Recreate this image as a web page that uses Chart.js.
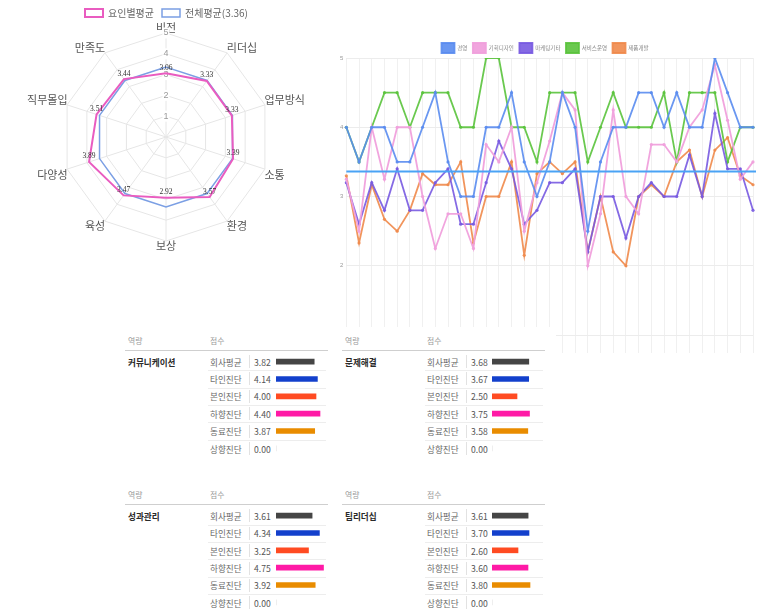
<!DOCTYPE html>
<html><head><meta charset="utf-8">
<script src="https://cdn.jsdelivr.net/npm/chart.js@4.4.1/dist/chart.umd.min.js"></script>
<style>
html,body{margin:0;padding:0;background:#fff;width:767px;height:610px;overflow:hidden;font-family:"Noto Sans CJK KR","Noto Sans",sans-serif;}
canvas{position:absolute;display:block;}
#tblBg{position:absolute;left:100px;top:327px;width:456px;height:283px;background:#fff;}
.tx{position:absolute;white-space:nowrap;height:14px;line-height:14px;font-size:8.6px;}
.ln{position:absolute;height:1px;}
.vs{position:absolute;width:1px;background:#e2e2e2;}
</style>
</head><body>
<canvas id="radar" width="333" height="252" style="left:0;top:0"></canvas>
<canvas id="line" width="437" height="330" style="left:330px;top:30px"></canvas>
<div id="tblBg"></div>
<script>
// ---------- data ----------
const radarLabels = ['비전','리더십','업무방식','소통','환경','보상','육성','다양성','직무몰입','만족도'];
const factorScores = [3.06,3.33,3.33,3.39,3.57,2.92,3.47,3.89,3.51,3.44];
const overallScores = [3.36,3.36,3.36,3.36,3.36,3.36,3.36,3.36,3.36,3.36];
const radarSeriesNames = ['요인별평균','전체평균(3.36)'];

const xLabels = ['1','2','3','4','5','6','7','8','9','10','11','12','13','14','15','16','17','18','19','20','21','22','23','24','25','26','27','28','29','30','31','32','33'];
const seriesNames = ['경영','기획디자인','마케팅기타','서비스운영','제품개발'];
const mgmt    = [4,3.5,4,4,3.5,3.5,4,4.5,3.5,3,3,4,4,4.5,3.5,3,3.5,4.5,4,2.5,3.5,4,4,4.5,4.5,4,4.5,4,4,5,4.5,4,4];
const design  = [3.25,2.5,4,3.25,4,4,3.0,2.25,2.75,2.75,2.25,3.75,3.5,4,2.5,3.2,3.8,4.5,4.25,2.0,2.75,4.25,3.0,2.75,3.75,3.75,3.5,4.0,4.25,4.9,4.1,3.25,3.5];
const marketing = [3.2,2.6,3.2,2.8,3.4,2.8,2.8,3.2,3.4,2.6,2.6,3.2,3.8,3.4,2.6,2.8,3.2,3.2,3.4,2.2,3.0,3.0,2.4,3.0,3.2,3.0,3.0,3.6,3.0,4.2,3.4,3.4,2.8];
const service = [4,3.5,4,4.5,4.5,4,4.5,4.5,4.5,4,4,5,5,4,4,3.5,4.5,4.5,4.5,3.5,4,4.5,4,4,4,4.5,3.5,4.5,4.5,4.5,3.5,4,4];
const product = [3.3,2.33,3.17,2.67,2.5,2.8,3.33,3.17,3.17,3.5,2.33,3.0,3.0,3.5,2.15,3.33,3.5,3.33,3.5,2.2,3.0,2.2,2.0,3.0,3.17,3.0,3.5,3.67,3.0,3.67,3.85,3.3,3.17];
const overallAvg = 3.36;
const yTicks = [1,2,3,4,5];

const headerLabels = ['역량','점수'];
const competencyNames = ['커뮤니케이션','문제해결','성과관리','팀리더십'];
const rowLabels = ['회사평균','타인진단','본인진단','하향진단','동료진단','상향진단'];
const commScores = [3.82,4.14,4.00,4.40,3.87,0.00];
const probScores = [3.68,3.67,2.50,3.75,3.58,0.00];
const perfScores = [3.61,4.34,3.25,4.75,3.92,0.00];
const leadScores = [3.61,3.70,2.60,3.60,3.80,0.00];

// ---------- styles ----------
const KR = "'Noto Sans CJK KR','Noto Sans',sans-serif";
const lineColors = ['rgba(90,140,240,0.9)','rgba(240,160,220,0.95)','rgba(120,90,225,0.9)','rgba(90,195,60,0.9)','rgba(240,138,75,0.9)'];
const rowColors = ['#454545','#1340cc','#ff4b22','#ff1aa6','#e98c00','#cccccc'];

function legendShrink(px){
  return {id:'legendShrink', afterInit(chart){
    const lg = chart.legend; if(!lg) return;
    const f = lg.fit.bind(lg);
    lg.fit = function(){ f(); this.height = Math.max(0, this.height - px); };
  }};
}

// ---------- radar ----------
const radarLabelPlugin = {
  id:'radarValueLabels',
  afterDatasetsDraw(chart){
    const meta = chart.getDatasetMeta(0);
    const ctx = chart.ctx;
    ctx.save();
    ctx.font = '7.5px "Liberation Serif","DejaVu Serif",serif';
    ctx.fillStyle = '#333';
    ctx.textAlign = 'center'; ctx.textBaseline = 'middle';
    meta.data.forEach((pt,i)=>{ ctx.fillText(factorScores[i].toFixed(2), pt.x, pt.y-5.5); });
    ctx.restore();
  }
};
new Chart(document.getElementById('radar'), {
  type:'radar',
  data:{labels:radarLabels, datasets:[
    {label:radarSeriesNames[0], data:factorScores, borderColor:'#e95cc0', backgroundColor:'rgba(255,255,255,0)', borderWidth:2, pointRadius:0, fill:false},
    {label:radarSeriesNames[1], data:overallScores, borderColor:'#7b9fe4', backgroundColor:'rgba(255,255,255,0)', borderWidth:1.5, pointRadius:0, fill:false}
  ]},
  options:{
    responsive:false, animation:false,
    layout:{padding:0},
    plugins:{
      legend:{labels:{boxWidth:18, boxHeight:8, padding:8, color:'#666', font:{size:10, family:KR}}},
      tooltip:{enabled:false}
    },
    scales:{r:{
      min:0, max:5,
      ticks:{stepSize:1, color:'#999', font:{size:9}, backdropColor:'#fff', backdropPadding:1},
      grid:{color:'#e6e6e6'}, angleLines:{color:'#e6e6e6'},
      pointLabels:{color:'#555', padding:-6, font:{size:11, family:KR, lineHeight:1}}
    }}
  },
  plugins:[radarLabelPlugin, legendShrink(5.5)]
});

// ---------- line ----------
const avgLinePlugin = {
  id:'avgLine',
  afterDatasetsDraw(chart){
    const y = chart.scales.y.getPixelForValue(overallAvg);
    const a = chart.chartArea, ctx = chart.ctx;
    ctx.save();
    ctx.strokeStyle = '#4aa3f5'; ctx.lineWidth = 2;
    ctx.beginPath(); ctx.moveTo(a.left, y); ctx.lineTo(a.right+3, y); ctx.stroke();
    ctx.restore();
  }
};
const seriesData = [mgmt, design, marketing, service, product];
new Chart(document.getElementById('line'), {
  type:'line',
  data:{labels:xLabels, datasets:seriesNames.map((n,i)=>({
    label:n, data:seriesData[i], borderColor:lineColors[i], backgroundColor:lineColors[i],
    borderWidth:1.8, pointRadius:1.6, pointBackgroundColor:lineColors[i], pointBorderWidth:0, tension:0, fill:false
  }))},
  options:{
    responsive:false, animation:false,
    layout:{padding:{left:7, right:14, top:7.5, bottom:7}},
    plugins:{
      legend:{labels:{boxWidth:13, boxHeight:10, padding:5.5, color:'#888', font:{size:5.5, family:KR}}},
      tooltip:{enabled:false}
    },
    scales:{
      x:{ticks:{display:false}, grid:{color:'#f0f0f0', drawTicks:true, tickLength:18}, border:{display:false}},
      y:{min:1, max:5, afterBuildTicks(s){ s.ticks = yTicks.map(v=>({value:v})); },
         ticks:{color:'#999', font:{size:6}, padding:3}, grid:{color:'#ececec', drawTicks:false}, border:{display:false}}
    }
  },
  plugins:[avgLinePlugin, legendShrink(5)]
});

// ---------- tables ----------
const tableScores = [commScores, probScores, perfScores, leadScores];
const tablePos = [[128,340.7],[345,340.7],[128,495],[345,495]];
const ROW = 17.42;
function addText(txt, x, cy, size, color, weight){
  const d = document.createElement('div');
  d.className='tx'; d.textContent = txt;
  d.style.left = x+'px'; d.style.top = (cy-7)+'px';
  d.style.fontSize = size+'px'; d.style.color = color;
  if(weight) d.style.fontWeight = weight;
  d.style.zIndex = 5;
  document.body.appendChild(d);
}
function addLine(x1, x2, y, color){
  const d = document.createElement('div');
  d.className='ln'; d.style.left=x1+'px'; d.style.width=(x2-x1)+'px'; d.style.top=y+'px'; d.style.background=color; d.style.zIndex=5;
  document.body.appendChild(d);
}
tableScores.forEach((scores, t)=>{
  const [tx, ty] = tablePos[t];
  addText(headerLabels[0], tx, ty, 7.8, '#9a9a9a');
  addText(headerLabels[1], tx+82, ty, 7.8, '#9a9a9a');
  addLine(tx-3, tx+200, ty+9, '#cfcfcf');
  const r0 = ty + 20.8;
  addText(competencyNames[t], tx, r0, 8.6, '#2a2a2a', 'bold');
  rowLabels.forEach((lab, i)=>{
    const cy = r0 + ROW*i;
    addText(lab, tx+82, cy, 8.6, '#6a6a6a');
    const v = document.createElement('div');
    v.className='vs'; v.style.left=(tx+121)+'px'; v.style.top=(cy-6.5)+'px'; v.style.height='13px'; v.style.zIndex=5;
    document.body.appendChild(v);
    addText(scores[i].toFixed(2), tx+126, cy, 8.6, '#555');
    if(i < rowLabels.length-1) addLine(tx+80, tx+198, cy+8.7, '#ededed');
  });
  const cv = document.createElement('canvas');
  cv.width = 60; cv.height = 104;
  cv.style.left = (tx + (t%2===0 ? 148 : 146.7))+'px';
  cv.style.top = (r0 - 8.7)+'px';
  cv.style.zIndex = 6;
  document.body.appendChild(cv);
  new Chart(cv, {
    type:'bar',
    data:{labels:rowLabels, datasets:[{data:scores, backgroundColor:rowColors, barThickness:5}]},
    options:{indexAxis:'y', responsive:false, animation:false, layout:{padding:0},
      plugins:{legend:{display:false}, tooltip:{enabled:false}},
      scales:{x:{display:false, min:0, max:6}, y:{display:false}}}
  });
});
</script>
</body></html>
